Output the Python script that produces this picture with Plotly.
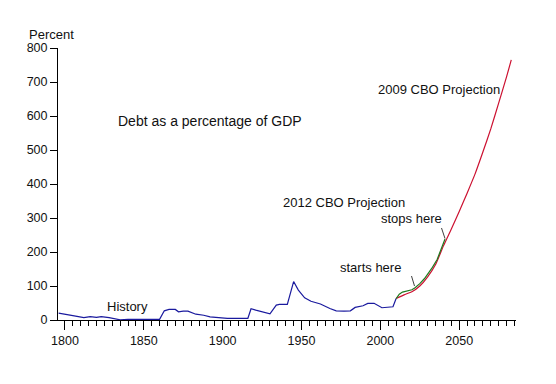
import plotly.graph_objects as go

# ---- data ----
hist_years = [1796, 1799, 1805, 1812, 1816, 1820, 1823, 1828, 1835, 1840, 1860, 1863, 1866,
              1870, 1872, 1875, 1878, 1883, 1888, 1892, 1900, 1903, 1916, 1918, 1921, 1924,
              1930, 1934, 1936, 1941, 1945, 1948, 1950, 1952, 1956, 1962, 1968, 1972, 1977,
              1981, 1984, 1989, 1992, 1996, 2001, 2004, 2008, 2010]
hist_vals = [20, 18, 13, 7, 10, 8, 10, 7, 0.5, 2, 2, 27, 31,
             31, 24, 26, 26, 17, 14, 9, 7, 5, 5, 33, 29, 26,
             18, 44, 46, 46, 113, 88, 78, 65, 55, 47, 34, 27, 26,
             27, 37, 42, 49, 49, 36, 38, 39, 63]

cbo2012_years = [2010, 2012, 2014, 2016, 2018, 2020, 2022, 2025, 2028, 2030, 2033, 2036, 2038, 2040, 2041]
cbo2012_vals = [63, 76, 82, 85, 87, 89, 95, 107, 122, 135, 155, 178, 200, 225, 238]

cbo2009_years = [2010, 2015, 2020, 2025, 2030, 2035, 2040, 2045, 2050, 2055, 2060, 2065,
                 2070, 2075, 2080, 2083]
cbo2009_vals = [63, 74, 83, 100, 127, 163, 218, 268, 319, 373, 429, 494,
                562, 638, 715, 765]

x_tick_vals = [1800, 1850, 1900, 1950, 2000, 2050]
y_tick_vals = [0, 100, 200, 300, 400, 500, 600, 700, 800]

# ---- layout helpers (pixel -> paper) ----
W, H = 556, 384
OFF = 8  # page body margin
L, R, T, B = 58, 40, 48, 64
PW, PH = W - L - R, H - T - B


def px(x, y):
    return (x - L) / PW, (H - B - y) / PH


FONT = "Arial, Liberation Sans, sans-serif"

fig = go.Figure()
fig.add_trace(go.Scatter(x=hist_years, y=hist_vals, mode="lines",
                         line=dict(color="#1a1a9e", width=1.2), hoverinfo="skip"))
fig.add_trace(go.Scatter(x=cbo2009_years, y=cbo2009_vals, mode="lines",
                         line=dict(color="#cc1030", width=1.2, shape="spline", smoothing=0.5),
                         hoverinfo="skip"))
fig.add_trace(go.Scatter(x=cbo2012_years, y=cbo2012_vals, mode="lines",
                         line=dict(color="#1f7a1f", width=1.2), hoverinfo="skip"))

annots = [
    ("Percent", 51, 35, 13),
    ("Debt as a percentage of GDP", 210, 121, 14),
    ("History", 127, 306, 13),
    ("2012 CBO Projection", 344, 202, 13),
    ("stops here", 411, 218, 13),
    ("starts here", 370, 267, 13),
    ("2009 CBO Projection", 439, 89, 13),
]
annotations = []
for text, x, y, fs in annots:
    ax, ay = px(x, y)
    annotations.append(dict(text=text, x=ax, y=ay, xref="paper", yref="paper",
                            xanchor="center", yanchor="middle", showarrow=False,
                            font=dict(family=FONT, size=fs, color="#111111")))

shapes = []
for (x0, y0, x1, y1) in [(441.5, 228, 445, 238.5), (411.5, 276, 414.5, 286)]:
    a0, b0 = px(x0, y0)
    a1, b1 = px(x1, y1)
    shapes.append(dict(type="line", xref="paper", yref="paper", x0=a0, y0=b0, x1=a1, y1=b1,
                       line=dict(color="#404040", width=1)))

fig.update_layout(
    width=W, height=H,
    margin=dict(l=L - OFF, r=R + OFF, t=T - OFF, b=B + OFF, pad=0),
    plot_bgcolor="white", paper_bgcolor="white",
    showlegend=False,
    annotations=annotations,
    shapes=shapes,
    font=dict(family=FONT, size=12.5, color="#111111"),
    xaxis=dict(range=[1795.6, 2086], showgrid=False, zeroline=False,
               showline=True, linecolor="black", linewidth=1,
               tickmode="array", tickvals=x_tick_vals, ticks="outside", ticklen=9,
               tickcolor="black", tickwidth=1,
               minor=dict(dtick=5, tick0=1800, ticks="outside", ticklen=5,
                          tickcolor="black", tickwidth=1, showgrid=False),
               tickfont=dict(family=FONT, size=12.5, color="#111111")),
    yaxis=dict(range=[0, 800], showgrid=False, zeroline=False,
               showline=True, linecolor="black", linewidth=1,
               tickmode="array", tickvals=y_tick_vals, ticks="outside", ticklen=7,
               tickcolor="black", tickwidth=1,
               tickfont=dict(family=FONT, size=12.5, color="#111111")),
)

fig.write_html("out.html")
